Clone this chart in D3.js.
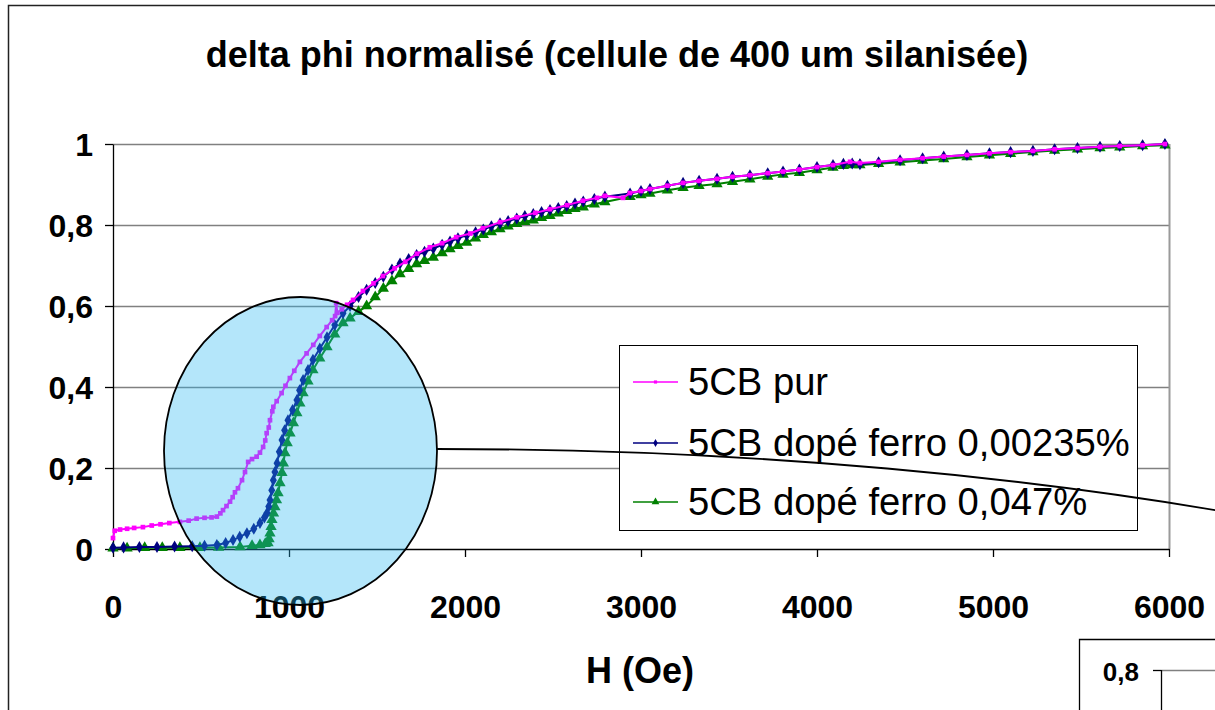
<!DOCTYPE html>
<html><head><meta charset="utf-8">
<script src="https://cdn.jsdelivr.net/npm/d3@7"></script>
<style>
html,body{margin:0;padding:0;background:#fff;}
svg{display:block;font-family:"Liberation Sans",Arial,sans-serif;}
</style></head>
<body>
<svg id="chart" width="1215" height="710"></svg>
<script>
const title = "delta phi normalisé (cellule de 400 um silanisée)";
const xTitle = "H (Oe)";
const seriesNames = ["5CB pur", "5CB dopé ferro 0,00235%", "5CB dopé ferro 0,047%"];
const xTicks = [0, 1000, 2000, 3000, 4000, 5000, 6000];
const yTicks = [0, 0.2, 0.4, 0.6, 0.8, 1];

const hPur = [0,10,40,80,120,170,220,270,320,380,430,475,520,560,590,610,625,645,665,680,693,710,733,750,768,790,816,835,853,865,873,885,892,905,911,930,958,980,1005,1030,1062,1100,1138,1175,1214,1245,1262,1268,1275,1300,1330,1364,1420,1480,1534,1600,1660,1727,1800,1870,1950,2030,2102,2200,2295,2400,2483,2580,2670,2750,2795,2898,2937,3000,3051,3150,3239,3330,3432,3520,3619,3720,3807,3900,4000,4091,4188,4244,4350,4472,4600,4720,4852,4980,5100,5227,5350,5480,5608,5720,5850,5977];
const vPur = [0.027,0.045,0.048,0.050,0.052,0.054,0.058,0.061,0.064,0.067,0.070,0.075,0.077,0.078,0.080,0.088,0.096,0.106,0.117,0.128,0.140,0.150,0.170,0.190,0.215,0.222,0.228,0.238,0.252,0.268,0.286,0.300,0.318,0.340,0.351,0.365,0.385,0.403,0.422,0.440,0.462,0.483,0.504,0.526,0.548,0.565,0.575,0.607,0.583,0.592,0.603,0.615,0.637,0.656,0.674,0.693,0.709,0.729,0.745,0.755,0.770,0.779,0.792,0.807,0.819,0.830,0.839,0.849,0.860,0.867,0.872,0.867,0.879,0.884,0.889,0.897,0.904,0.909,0.914,0.919,0.923,0.928,0.932,0.937,0.943,0.948,0.956,0.953,0.956,0.961,0.965,0.969,0.973,0.977,0.980,0.983,0.987,0.990,0.993,0.995,0.997,1.000];

const hDop1 = [0,60,150,250,350,450,520,590,640,682,720,761,800,835,860,875,885,892,902,911,920,932,945,960,975,994,1020,1045,1060,1080,1108,1136,1175,1216,1260,1307,1347,1395,1441,1490,1536,1585,1631,1680,1725,1770,1820,1870,1915,1960,2010,2060,2104,2150,2199,2245,2294,2340,2388,2435,2483,2530,2578,2625,2672,2735,2795,2938,3000,3051,3150,3239,3330,3432,3520,3619,3720,3807,3900,4000,4091,4150,4200,4244,4350,4472,4600,4720,4852,4980,5100,5227,5350,5480,5608,5720,5850,5977];
const vDop1 = [0.003,0.004,0.005,0.005,0.006,0.007,0.008,0.010,0.015,0.022,0.030,0.039,0.050,0.064,0.078,0.089,0.105,0.121,0.145,0.170,0.190,0.212,0.240,0.269,0.293,0.318,0.343,0.368,0.392,0.417,0.442,0.467,0.495,0.523,0.553,0.582,0.600,0.622,0.640,0.657,0.672,0.690,0.705,0.716,0.726,0.734,0.742,0.751,0.759,0.767,0.775,0.782,0.789,0.797,0.804,0.810,0.816,0.822,0.827,0.832,0.837,0.842,0.847,0.853,0.858,0.864,0.870,0.878,0.884,0.889,0.897,0.904,0.909,0.914,0.919,0.923,0.928,0.932,0.937,0.943,0.948,0.951,0.952,0.950,0.955,0.960,0.965,0.969,0.973,0.977,0.980,0.983,0.987,0.990,0.993,0.995,0.997,1.000];

const hDop2 = [0,80,180,280,380,494,600,722,790,835,865,881,887,892,898,903,912,920,929,938,949,960,968,977,990,1006,1025,1045,1062,1080,1108,1136,1175,1216,1260,1307,1347,1395,1441,1490,1536,1585,1631,1680,1725,1770,1820,1870,1915,1960,2010,2060,2104,2150,2199,2245,2294,2340,2388,2435,2483,2530,2578,2625,2672,2735,2795,2938,3000,3051,3150,3239,3330,3432,3520,3619,3720,3807,3900,4000,4091,4150,4200,4244,4350,4472,4600,4720,4852,4980,5100,5227,5350,5480,5608,5720,5850,5977];
const vDop2 = [0.002,0.002,0.003,0.003,0.003,0.003,0.004,0.005,0.008,0.010,0.013,0.015,0.025,0.039,0.055,0.072,0.088,0.104,0.121,0.138,0.163,0.188,0.212,0.237,0.262,0.286,0.311,0.336,0.360,0.385,0.414,0.442,0.471,0.499,0.530,0.558,0.570,0.586,0.600,0.622,0.643,0.662,0.679,0.692,0.704,0.712,0.720,0.731,0.741,0.749,0.757,0.767,0.776,0.783,0.790,0.797,0.803,0.808,0.812,0.818,0.823,0.829,0.835,0.840,0.844,0.851,0.857,0.870,0.874,0.878,0.886,0.892,0.897,0.901,0.907,0.913,0.920,0.925,0.929,0.936,0.942,0.946,0.948,0.948,0.951,0.955,0.959,0.963,0.968,0.972,0.976,0.980,0.984,0.987,0.990,0.992,0.995,0.997];

const colors = ["#FF00FF", "#000080", "#008000"];

const svg = d3.select("#chart");
const W = 1215, H = 710;
const plot = {left: 113, right: 1169, top: 144, bottom: 549};

const x = d3.scaleLinear().domain([0, 6000]).range([plot.left, plot.right]);
const y = d3.scaleLinear().domain([0, 1]).range([plot.bottom, plot.top]);
const fmt = v => d3.format("~g")(v).replace(".", ",");

// outer chart frame
svg.append("path").attr("d", `M8.5,${H} V5.5 H${W}`).attr("fill", "none").attr("stroke", "#222").attr("stroke-width", 1.5);

// title
svg.append("text").attr("x", 617).attr("y", 67).attr("text-anchor", "middle")
  .attr("font-size", 36).attr("font-weight", "bold").text(title);

// gridlines
svg.append("g").selectAll("line").data(yTicks.filter(d => d > 0)).join("line")
  .attr("x1", plot.left).attr("x2", plot.right)
  .attr("y1", d => Math.round(y(d)) + 0.5).attr("y2", d => Math.round(y(d)) + 0.5)
  .attr("stroke", "#808080").attr("stroke-width", 1.3);
// right border of plot area
svg.append("line").attr("x1", plot.right + 0.5).attr("x2", plot.right + 0.5)
  .attr("y1", plot.top).attr("y2", plot.bottom).attr("stroke", "#9a9a9a").attr("stroke-width", 2);

// axes
const yAxis = svg.append("g").attr("transform", `translate(${plot.left},0)`)
  .call(d3.axisLeft(y).tickValues(yTicks).tickFormat(fmt).tickSize(8).tickSizeOuter(0).tickPadding(12));
const xAxis = svg.append("g").attr("transform", `translate(0,${plot.bottom})`)
  .call(d3.axisBottom(x).tickValues(xTicks).tickFormat(d3.format("d")).tickSize(8).tickSizeOuter(0).tickPadding(38));
[yAxis, xAxis].forEach(a => {
  a.selectAll("path,line").attr("stroke", "#000").attr("stroke-width", 1.3);
  a.selectAll("text").attr("font-size", 32).attr("font-weight", "bold").attr("fill", "#000")
   .attr("font-family", '"Liberation Sans",Arial,sans-serif');
});
yAxis.selectAll("text").attr("dy", "0.36em");

svg.append("text").attr("x", 640).attr("y", 683).attr("text-anchor", "middle")
  .attr("font-size", 36).attr("font-weight", "bold").text(xTitle);

// series
const seriesData = [
  hPur.map((h, i) => [h, vPur[i]]),
  hDop1.map((h, i) => [h, vDop1[i]]),
  hDop2.map((h, i) => [h, vDop2[i]])
];
const line = d3.line().x(d => x(d[0])).y(d => y(d[1]));
const symbols = [d3.symbolSquare, d3.symbolDiamond, d3.symbolTriangle];
const symSizes = [22, 42, 55];

[2, 1, 0].forEach(k => {
  const g = svg.append("g");
  g.append("path").datum(seriesData[k]).attr("d", line).attr("fill", "none")
    .attr("stroke", colors[k]).attr("stroke-width", 2);
  g.selectAll("path.m").data(seriesData[k]).join("path").attr("class", "m")
    .attr("transform", d => `translate(${x(d[0])},${y(d[1])})`)
    .attr("d", d3.symbol().type(symbols[k]).size(symSizes[k]))
    .attr("fill", colors[k]);
});

// legend
const lg = svg.append("g");
lg.append("rect").attr("x", 619.5).attr("y", 345.5).attr("width", 518).attr("height", 185)
  .attr("fill", "#fff").attr("stroke", "#000").attr("stroke-width", 1);
const rowY = [382, 443, 502];
const legSizes = [10, 18, 26];
seriesNames.forEach((name, k) => {
  lg.append("line").attr("x1", 633).attr("x2", 678).attr("y1", rowY[k]).attr("y2", rowY[k])
    .attr("stroke", colors[k]).attr("stroke-width", 1.6);
  lg.append("path").attr("transform", `translate(655.5,${rowY[k]})`)
    .attr("d", d3.symbol().type(symbols[k]).size(legSizes[k])).attr("fill", colors[k]);
  lg.append("text").attr("x", 688).attr("y", rowY[k] + 13).attr("font-size", 38.2)
    .attr("fill", "#000").text(name);
});

// highlight ellipse (semi-transparent overlay)
svg.append("ellipse").attr("cx", 300.5).attr("cy", 451).attr("rx", 136.5).attr("ry", 154)
  .attr("fill", "rgb(40,183,240)").attr("fill-opacity", 0.35)
  .attr("stroke", "#000").attr("stroke-width", 1.8);
// connector curve
svg.append("path").attr("d", "M437,449 C760,449 1040,478 1260,518")
  .attr("fill", "none").attr("stroke", "#000").attr("stroke-width", 1.8);

// partial neighbouring chart at bottom right
svg.append("path").attr("d", `M1079.5,${H} V639.5 H${W}`).attr("fill", "none").attr("stroke", "#000").attr("stroke-width", 1.3);
svg.append("line").attr("x1", 1161).attr("x2", W).attr("y1", 670.5).attr("y2", 670.5).attr("stroke", "#808080").attr("stroke-width", 1.3);
svg.append("line").attr("x1", 1153).attr("x2", 1161).attr("y1", 670.5).attr("y2", 670.5).attr("stroke", "#000").attr("stroke-width", 1.3);
svg.append("line").attr("x1", 1161.5).attr("x2", 1161.5).attr("y1", 670).attr("y2", H).attr("stroke", "#000").attr("stroke-width", 1.3);
svg.append("text").attr("x", 1139).attr("y", 681).attr("text-anchor", "end")
  .attr("font-size", 26).attr("font-weight", "bold").text("0,8");
</script>
</body></html>
